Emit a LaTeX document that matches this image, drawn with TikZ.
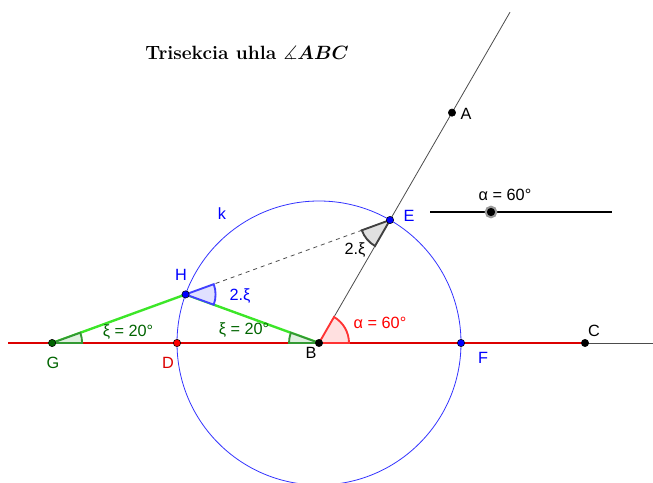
\documentclass[tikz,border=0pt]{standalone}
\usepackage{amsmath,amssymb,bm}
\usepackage{fontspec}
\newfontfamily\geofont{Liberation Sans}
\usepackage{xcolor}
\usepackage{tikz}
\usetikzlibrary{calc}
\definecolor{ggred}{RGB}{220, 0, 0}
\definecolor{ggblue}{RGB}{0, 0, 255}
\definecolor{gggreen}{RGB}{0, 100, 0}
\definecolor{lightgreen}{RGB}{60, 230, 40}
\definecolor{secgreen}{RGB}{0, 128, 0}
\tikzset{
    pnt/.style={circle, draw=black, inner sep=0pt, minimum size=5.5pt},
    lbl/.style={font=\geofont\fontsize{12.2}{13}\selectfont, inner sep=0pt},
    sector/.style={line width=1.4pt}
}

\begin{document}
\begin{tikzpicture}[x=0.75pt, y=0.75pt]
    \useasboundingbox (0,0) rectangle (653,482);
    % main points
    \coordinate (B) at (319,139);
    \coordinate (E) at ($(B)+(60:142)$);
    \coordinate (H) at ($(B)+(160:142)$);
    \coordinate (G) at ($(H)+(200:142)$);
    \coordinate (D) at ($(B)+(180:142)$);
    \coordinate (F) at ($(B)+(0:142)$);
    \coordinate (A) at ($(B)+(60:266)$);
    \coordinate (rayend) at ($(B)+(60:382)$);
    \coordinate (C) at (585,139);
    \coordinate (lineL) at (8,139);
    \coordinate (lineR) at (653,139);

    % lines
    \draw [black!70, line width=0.6pt] (B) -- (rayend);
    \draw [black!70, line width=0.6pt] (C) -- (lineR);
    \draw [ggred, line width=0.8pt] (lineL) -- (C);
    \draw [ggblue!80, line width=0.6pt] (B) circle [radius=142];
    \draw [black!70, dashed, line width=0.6pt] (H) -- (E);
    \draw [lightgreen, line width=1.8pt] (G) -- (H) -- (B);

    % angles
    \filldraw [sector, draw=secgreen!80, fill=secgreen!12] (G) -- ++(0:30) arc [start angle=0, end angle=20, radius=30] -- cycle;
    \filldraw [sector, draw=secgreen!80, fill=secgreen!12] (B) -- ++(160:30) arc [start angle=160, end angle=180, radius=30] -- cycle;
    \filldraw [sector, draw=ggblue!75, fill=ggblue!12] (H) -- ++(-20:30) arc [start angle=-20, end angle=20, radius=30] -- cycle;
    \filldraw [sector, draw=black!75, fill=black!12] (E) -- ++(200:30) arc [start angle=200, end angle=240, radius=30] -- cycle;
    \filldraw [sector, draw=red!80, fill=red!12] (B) -- ++(0:30) arc [start angle=0, end angle=60, radius=30] -- cycle;

    % slider
    \draw [black, line width=1.4pt] (430,270) -- (612,270);
    \node [pnt, fill=black, draw=black!40, line width=1.5pt, minimum size=8pt] (knob) at (491,270) {};
    \node [lbl] (alphaslider) at (505,287) {α = 60°};

    % points
    \node [pnt, fill=black] (ptA) at (A) {};
    \node [pnt, fill=black] (ptB) at (B) {};
    \node [pnt, fill=black] (ptC) at (C) {};
    \node [pnt, fill=ggblue] (ptE) at (E) {};
    \node [pnt, fill=ggblue] (ptF) at (F) {};
    \node [pnt, fill=ggblue] (ptH) at (H) {};
    \node [pnt, fill=red] (ptD) at (D) {};
    \node [pnt, fill=gggreen] (ptG) at (G) {};

    % labels
    \node [lbl] (labA) at (466,368) {A};
    \node [lbl] (labB) at (311,129) {B};
    \node [lbl] (labC) at (594,151) {C};
    \node [lbl, text=ggred] (labD) at (168,119) {D};
    \node [lbl, text=ggblue] (labE) at (409,266) {E};
    \node [lbl, text=ggblue] (labF) at (483,124) {F};
    \node [lbl, text=gggreen] (labG) at (53,119) {G};
    \node [lbl, text=ggblue] (labH) at (181,207) {H};
    \node [lbl, text=ggblue] (labk) at (222,268) {k};
    \node [lbl, text=gggreen] (xiG) at (128,150) {ξ = 20°};
    \node [lbl, text=gggreen] (xiB) at (244,152) {ξ = 20°};
    \node [lbl, text=ggblue] (twoxiH) at (240,186) {2.ξ};
    \node [lbl] (twoxiE) at (355,232) {2.ξ};
    \node [lbl, text=red] (alphaB) at (380,159) {α = 60°};

    % title
    \node [inner sep=0pt, font=\Large] (title) at (247,429) {\textbf{Trisekcia uhla $\measuredangle\bm{ABC}$}};
\end{tikzpicture}
\end{document}
